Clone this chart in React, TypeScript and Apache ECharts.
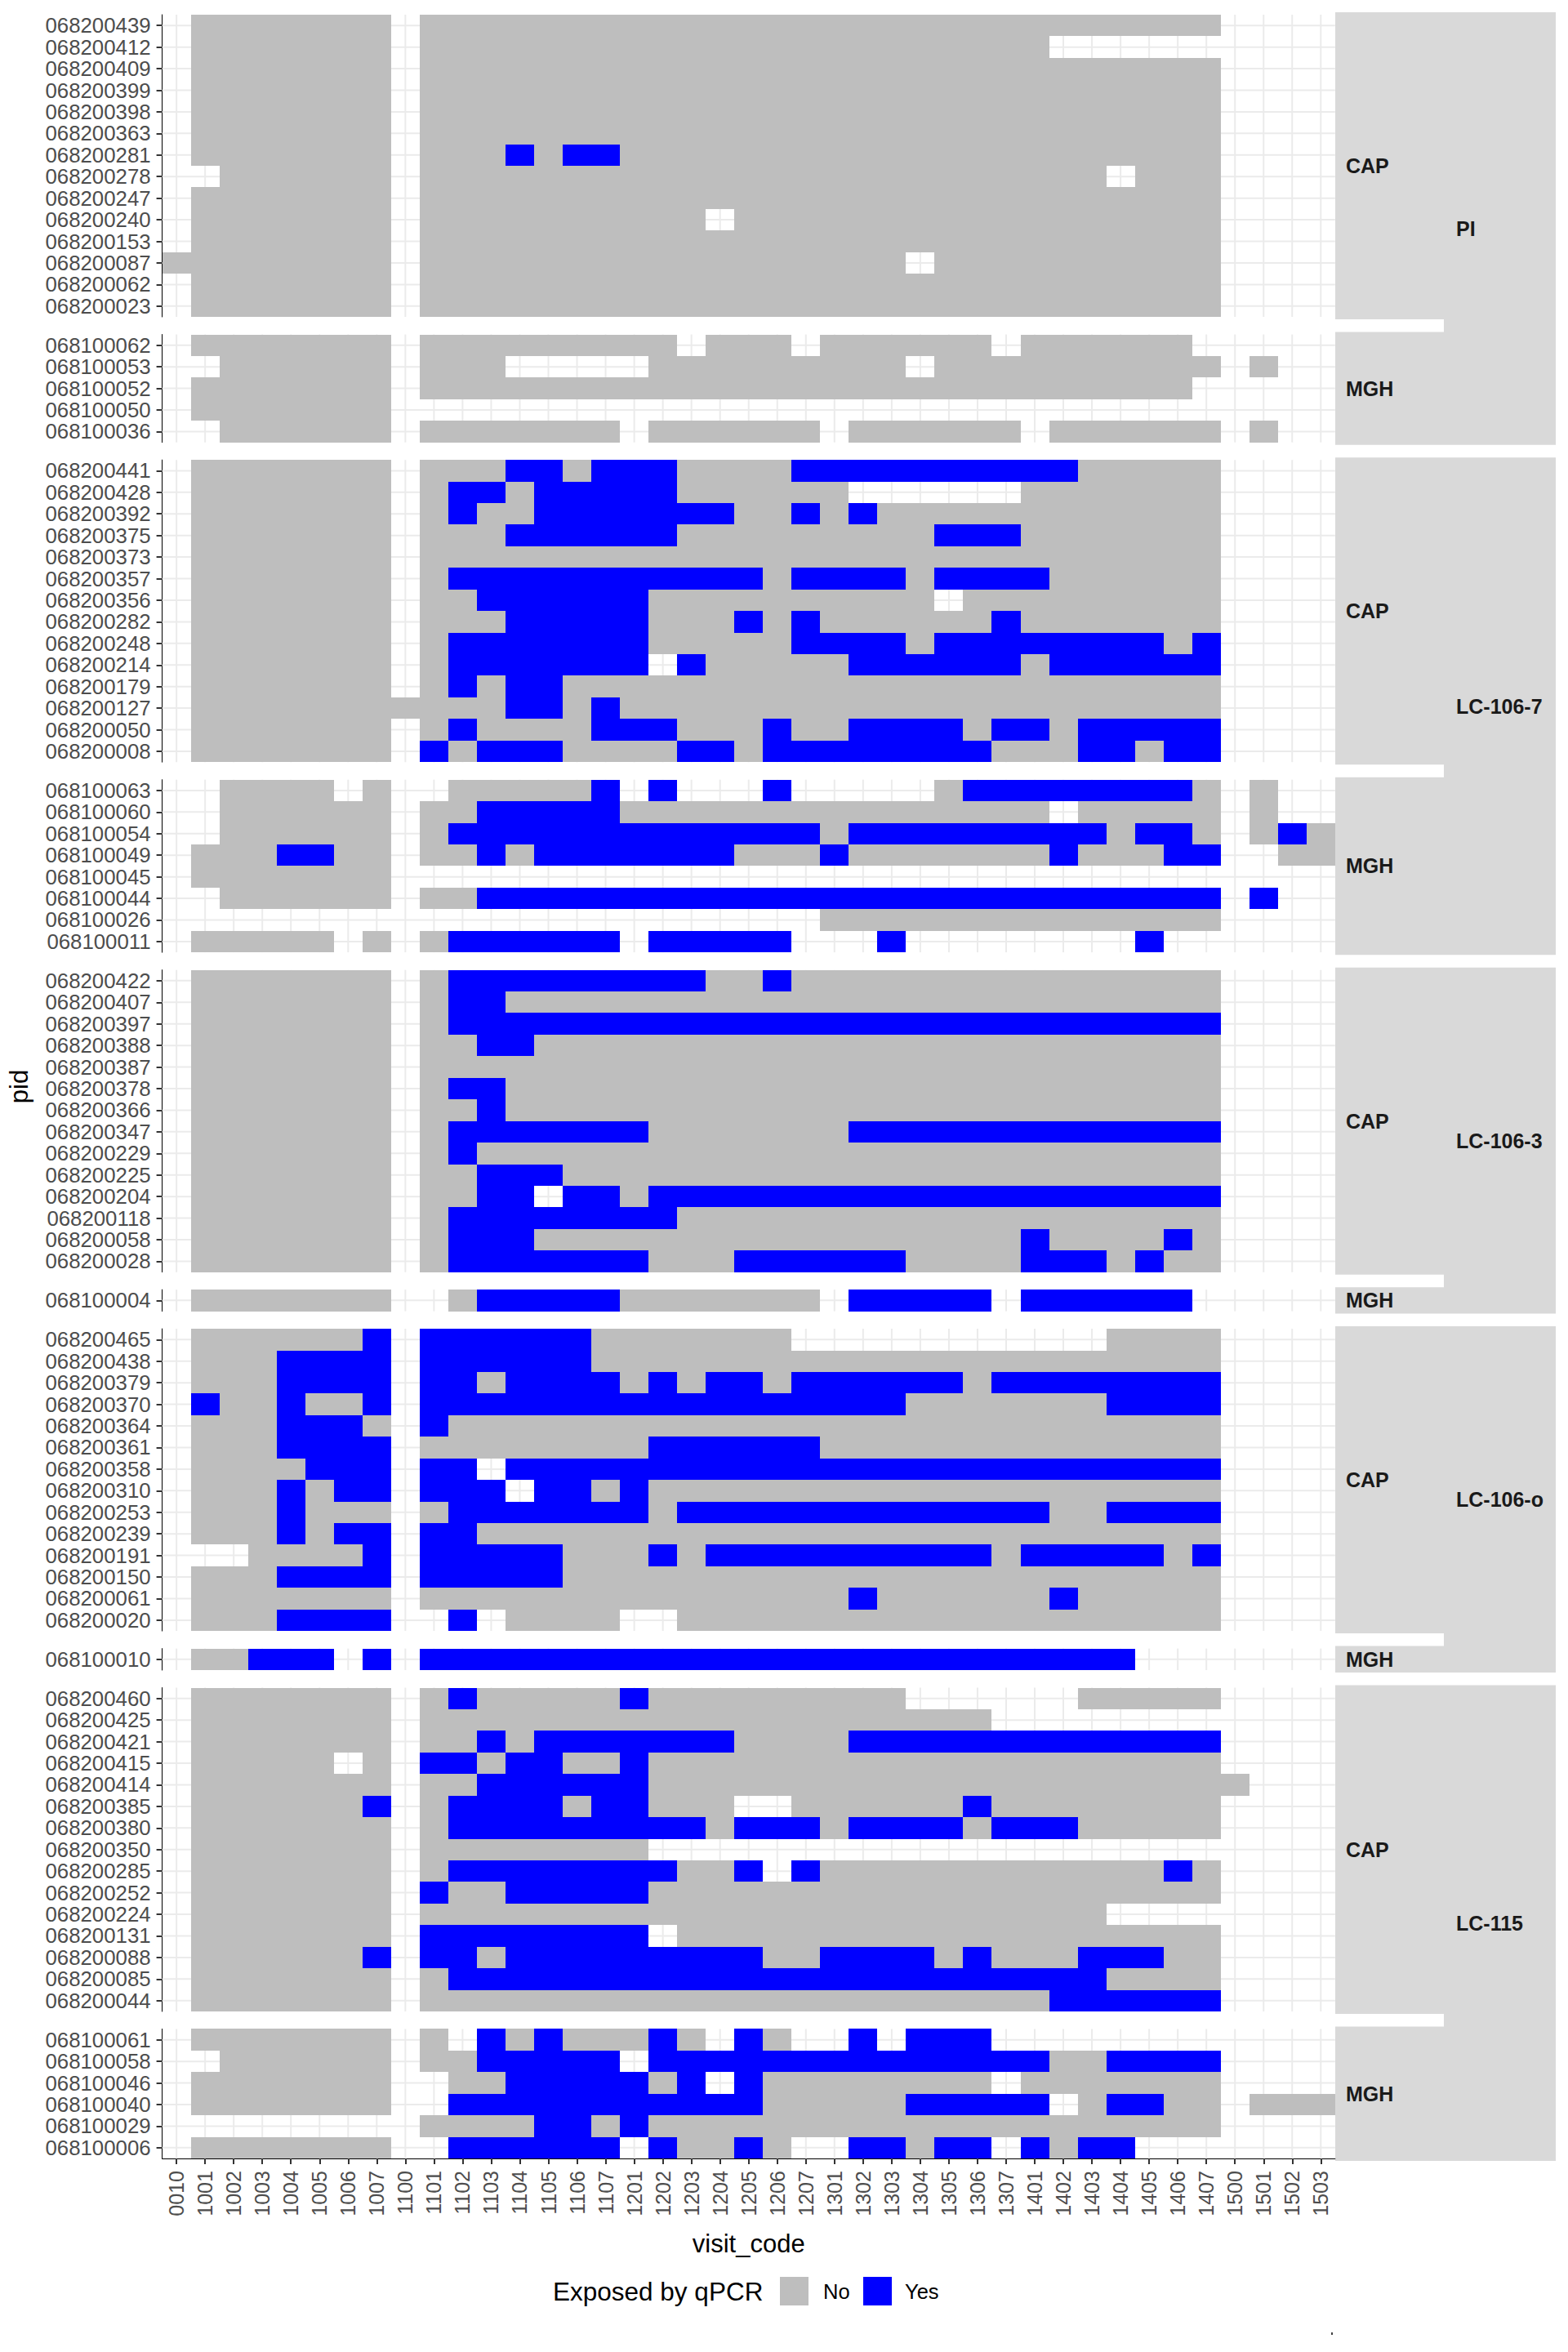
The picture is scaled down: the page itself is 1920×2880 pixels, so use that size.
import React, { useEffect, useRef } from "react";
import * as echarts from "echarts";

// ---------------- DATA ----------------
const visitCodes = [
  "0010", "1001", "1002", "1003", "1004", "1005", "1006", "1007", "1100",
  "1101", "1102", "1103", "1104", "1105", "1106", "1107",
  "1201", "1202", "1203", "1204", "1205", "1206", "1207",
  "1301", "1302", "1303", "1304", "1305", "1306", "1307",
  "1401", "1402", "1403", "1404", "1405", "1406", "1407",
  "1500", "1501", "1502", "1503",
];

// One character per visit code (spaces only separate visit groups):
// n = No, y = Yes, . = no result
const FULL = ". nnnnnnn . nnnnnnn nnnnnnn nnnnnnn nnnnnnn . ...";

const piCapPids = ["068200439", "068200412", "068200409", "068200399", "068200398", "068200363", "068200281", "068200278", "068200247", "068200240", "068200153", "068200087", "068200062", "068200023"];
const piCapRows = [
  ". nnnnnnn . nnnnnnn nnnnnnn nnnnnnn nnnnnnn . ...",
  ". nnnnnnn . nnnnnnn nnnnnnn nnnnnnn n...... . ...",
  FULL, FULL, FULL, FULL,
  ". nnnnnnn . nnnynyy nnnnnnn nnnnnnn nnnnnnn . ...",
  ". .nnnnnn . nnnnnnn nnnnnnn nnnnnnn nnn.nnn . ...",
  FULL,
  ". nnnnnnn . nnnnnnn nnn.nnn nnnnnnn nnnnnnn . ...",
  FULL,
  "n nnnnnnn . nnnnnnn nnnnnnn nnn.nnn nnnnnnn . ...",
  FULL, FULL,
];

const piMghPids = ["068100062", "068100053", "068100052", "068100050", "068100036"];
const piMghRows = [
  ". nnnnnnn . nnnnnnn nn.nnn. nnnnnn. nnnnnn. . ...",
  ". .nnnnnn . nnn.... .nnnnnn nnn.nnn nnnnnnn . n..",
  ". nnnnnnn . nnnnnnn nnnnnnn nnnnnnn nnnnnn. . ...",
  ". nnnnnnn . ....... ....... ....... ....... . ...",
  ". .nnnnnn . nnnnnnn .nnnnnn .nnnnnn .nnnnnn . n..",
];

const lc7CapPids = ["068200441", "068200428", "068200392", "068200375", "068200373", "068200357", "068200356", "068200282", "068200248", "068200214", "068200179", "068200127", "068200050", "068200008"];
const lc7CapRows = [
  ". nnnnnnn . nnnyyny yynnnny yyyyyyy yynnnnn . ...",
  ". nnnnnnn . nyynyyy yynnnnn n...... nnnnnnn . ...",
  ". nnnnnnn . nynnyyy yyyynny nynnnnn nnnnnnn . ...",
  ". nnnnnnn . nnnyyyy yynnnnn nnnnyyy nnnnnnn . ...",
  FULL,
  ". nnnnnnn . nyyyyyy yyyyyny yyynyyy ynnnnnn . ...",
  ". nnnnnnn . nnyyyyy ynnnnnn nnnn.nn nnnnnnn . ...",
  ". nnnnnnn . nnnyyyy ynnnyny nnnnnny nnnnnnn . ...",
  ". nnnnnnn . nyyyyyy ynnnnny yyynyyy yyyyyny . ...",
  ". nnnnnnn . nyyyyyy y.ynnnn nyyyyyy nyyyyyy . ...",
  ". nnnnnnn . nynyynn nnnnnnn nnnnnnn nnnnnnn . ...",
  ". nnnnnnn n nnnyyny nnnnnnn nnnnnnn nnnnnnn . ...",
  ". nnnnnnn . nynnnny yynnnyn nyyyyny ynyyyyy . ...",
  ". nnnnnnn . ynyyynn nnyynyy yyyyyyn nnyynyy . ...",
];

const lc7MghPids = ["068100063", "068100060", "068100054", "068100049", "068100045", "068100044", "068100026", "068100011"];
const lc7MghRows = [
  ". .nnnn.n . .nnnnny .y...y. ....nyy yyyyyyn . n..",
  ". .nnnnnn . nnyyyyy nnnnnnn nnnnnnn n.nnnnn . n..",
  ". .nnnnnn . nyyyyyy yyyyyyy nyyyyyy yyynyyn . nyn",
  ". nnnyynn . nnynyyy yyyynnn ynnnnnn nynnnyy . .nn",
  ". nnnnnnn . ....... ....... ....... ....... . ...",
  ". .nnnnnn . nnyyyyy yyyyyyy yyyyyyy yyyyyyy . y..",
  ". ....... . ....... ....... nnnnnnn nnnnnnn . ...",
  ". nnnnn.n . nyyyyyy .yyyyy. ..y.... ....y.. . ...",
];

const lc3CapPids = ["068200422", "068200407", "068200397", "068200388", "068200387", "068200378", "068200366", "068200347", "068200229", "068200225", "068200204", "068200118", "068200058", "068200028"];
const lc3CapRows = [
  ". nnnnnnn . nyyyyyy yyynnyn nnnnnnn nnnnnnn . ...",
  ". nnnnnnn . nyynnnn nnnnnnn nnnnnnn nnnnnnn . ...",
  ". nnnnnnn . nyyyyyy yyyyyyy yyyyyyy yyyyyyy . ...",
  ". nnnnnnn . nnyynnn nnnnnnn nnnnnnn nnnnnnn . ...",
  FULL,
  ". nnnnnnn . nyynnnn nnnnnnn nnnnnnn nnnnnnn . ...",
  ". nnnnnnn . nnynnnn nnnnnnn nnnnnnn nnnnnnn . ...",
  ". nnnnnnn . nyyyyyy ynnnnnn nyyyyyy yyyyyyy . ...",
  ". nnnnnnn . nynnnnn nnnnnnn nnnnnnn nnnnnnn . ...",
  ". nnnnnnn . nnyyynn nnnnnnn nnnnnnn nnnnnnn . ...",
  ". nnnnnnn . nnyy.yy nyyyyyy yyyyyyy yyyyyyy . ...",
  ". nnnnnnn . nyyyyyy yynnnnn nnnnnnn nnnnnnn . ...",
  ". nnnnnnn . nyyynnn nnnnnnn nnnnnnn ynnnnyn . ...",
  ". nnnnnnn . nyyyyyy ynnnyyy yyynnnn yyynynn . ...",
];

const lc3MghPids = ["068100004"];
const lc3MghRows = [". nnnnnnn . .nyyyyy nnnnnnn .yyyyy. yyyyyy. . ..."];

const lcoCapPids = ["068200465", "068200438", "068200379", "068200370", "068200364", "068200361", "068200358", "068200310", "068200253", "068200239", "068200191", "068200150", "068200061", "068200020"];
const lcoCapRows = [
  ". nnnnnny . yyyyyyn nnnnnn. ....... ...nnnn . ...",
  ". nnnyyyy . yyyyyyn nnnnnnn nnnnnnn nnnnnnn . ...",
  ". nnnyyyy . yynyyyy nynyyny yyyyyny yyyyyyy . ...",
  ". ynnynny . yyyyyyy yyyyyyy yyynnnn nnnyyyy . ...",
  ". nnnyyyn . ynnnnnn nnnnnnn nnnnnnn nnnnnnn . ...",
  ". nnnyyyy . nnnnnnn nyyyyyy nnnnnnn nnnnnnn . ...",
  ". nnnnyyy . yy.yyyy yyyyyyy yyyyyyy yyyyyyy . ...",
  ". nnnynyy . yyy.yyn ynnnnnn nnnnnnn nnnnnnn . ...",
  ". nnnynnn . nyyyyyy ynyyyyy yyyyyyy ynnyyyy . ...",
  ". nnnynyy . yynnnnn nnnnnnn nnnnnnn nnnnnnn . ...",
  ". ..nnnny . yyyyynn nynyyyy yyyyyyn yyyyyny . ...",
  ". nnnyyyy . yyyyynn nnnnnnn nnnnnnn nnnnnnn . ...",
  ". nnnnnnn . nnnnnnn nnnnnnn nynnnnn nynnnnn . ...",
  ". nnnyyyy . .y.nnnn ..nnnnn nnnnnnn nnnnnnn . ...",
];

const lcoMghPids = ["068100010"];
const lcoMghRows = [". nnyyy.y . yyyyyyy yyyyyyy yyyyyyy yyyy... . ..."];

const lc115CapPids = ["068200460", "068200425", "068200421", "068200415", "068200414", "068200385", "068200380", "068200350", "068200285", "068200252", "068200224", "068200131", "068200088", "068200085", "068200044"];
const lc115CapRows = [
  ". nnnnnnn . nynnnnn ynnnnnn nnn.... ..nnnnn . ...",
  ". nnnnnnn . nnnnnnn nnnnnnn nnnnnn. ....... . ...",
  ". nnnnnnn . nnynyyy yyyynnn nyyyyyy yyyyyyy . ...",
  ". nnnnn.n . yynyynn ynnnnnn nnnnnnn nnnnnnn . ...",
  ". nnnnnnn . nnyyyyy ynnnnnn nnnnnnn nnnnnnn n ...",
  ". nnnnnny . nyyyyny ynnn..n nnnnnyn nnnnnnn . ...",
  ". nnnnnnn . nyyyyyy yyynyyy nyyyyny yynnnnn . ...",
  ". nnnnnnn . nnnnnnn n...... ....... ....... . ...",
  ". nnnnnnn . nyyyyyy yynny.y nnnnnnn nnnnnyn . ...",
  ". nnnnnnn . ynnyyyy ynnnnnn nnnnnnn nnnnnnn . ...",
  ". nnnnnnn . nnnnnnn nnnnnnn nnnnnnn nnn.... . ...",
  ". nnnnnnn . yyyyyyy y.nnnnn nnnnnnn nnnnnnn . ...",
  ". nnnnnny . yynyyyy yyyyynn yyyynyn nnyyynn . ...",
  ". nnnnnnn . nyyyyyy yyyyyyy yyyyyyy yyynnnn . ...",
  ". nnnnnnn . nnnnnnn nnnnnnn nnnnnnn nyyyyyy . ...",
];

const lc115MghPids = ["068100061", "068100058", "068100046", "068100040", "068100029", "068100006"];
const lc115MghRows = [
  ". nnnnnnn . n.ynynn nyn.yn. .y.yyy. ....... . ...",
  ". .nnnnnn . nnyyyyy .yyyyyy yyyyyyy ynnyyyy . ...",
  ". nnnnnnn . .nnyyyy yny.ynn nnnnnn. nnnnnnn . ...",
  ". nnnnnnn . .yyyyyy yyyyynn nnnyyyy y.nyynn . nnn",
  ". ....... . nnnnyyn ynnnnnn nnnnnnn nnnnnnn . ...",
  ". nnnnnnn . .yyyyyy .ynnyn. .yynyy. ynyy... . ...",
];

const arms = ["PI", "LC-106-7", "LC-106-3", "LC-106-o", "LC-115"];
const sites = ["CAP", "MGH"];
const legendLabels = ["No", "Yes"];

const panels = [
  { arm: 0, site: 0, pids: piCapPids, rows: piCapRows },
  { arm: 0, site: 1, pids: piMghPids, rows: piMghRows },
  { arm: 1, site: 0, pids: lc7CapPids, rows: lc7CapRows },
  { arm: 1, site: 1, pids: lc7MghPids, rows: lc7MghRows },
  { arm: 2, site: 0, pids: lc3CapPids, rows: lc3CapRows },
  { arm: 2, site: 1, pids: lc3MghPids, rows: lc3MghRows },
  { arm: 3, site: 0, pids: lcoCapPids, rows: lcoCapRows },
  { arm: 3, site: 1, pids: lcoMghPids, rows: lcoMghRows },
  { arm: 4, site: 0, pids: lc115CapPids, rows: lc115CapRows },
  { arm: 4, site: 1, pids: lc115MghPids, rows: lc115MghRows },
];

// ---------------- STYLE ----------------
const FONT = "'Liberation Sans', Arial, Helvetica, sans-serif";
const GRAY = "#BEBEBE";
const BLUE = "#0000FF";
const GRIDLINE = "#EBEBEB";
const STRIP = "#D9D9D9";

const PLOT_LEFT = 198.6;
const COL_W = 35.03;
const PLOT_TOP = 18;
const ROW_H = 26.43;
const PANEL_GAP = 21.5;
const SITE_X = 1635;
const ARM_X = 1768;
const STRIP_END = 1905;

const snap = (v: number) => Math.round(Math.round(v * 1000) / 1000);

function buildOption() {
  const grids: any[] = [];
  const xAxes: any[] = [];
  const yAxes: any[] = [];
  const series: any[] = [];
  const graphics: any[] = [];
  const plotW = COL_W * visitCodes.length;
  const last = panels.length - 1;
  const armSpan: Record<number, [number, number]> = {};

  let cursor = PLOT_TOP;
  panels.forEach((p, i) => {
    const h = p.pids.length * ROW_H;
    grids.push({ left: PLOT_LEFT, top: cursor, width: plotW, height: h, containLabel: false });

    xAxes.push({
      type: "category",
      gridIndex: i,
      data: visitCodes,
      show: i === last,
      position: "bottom",
      axisLine: { show: true, lineStyle: { color: "#000", width: 1 } },
      axisTick: { show: true, alignWithLabel: true, interval: 0, length: 7, lineStyle: { color: "#333", width: 2 } },
      axisLabel: { interval: 0, rotate: 90, fontSize: 25, color: "#4D4D4D", margin: 15, fontFamily: FONT },
      splitLine: { show: false },
    });
    yAxes.push({
      type: "category",
      gridIndex: i,
      data: p.pids,
      inverse: true,
      axisLine: { show: true, lineStyle: { color: "#000", width: 1 } },
      axisTick: { show: true, alignWithLabel: true, interval: 0, length: 7, lineStyle: { color: "#333", width: 2 } },
      axisLabel: { interval: 0, fontSize: 25.8, color: "#4D4D4D", margin: 14, fontFamily: FONT },
      splitLine: { show: false },
    });

    const nRows = p.pids.length;
    series.push({
      type: "custom",
      xAxisIndex: i,
      yAxisIndex: i,
      silent: true,
      z: 1,
      data: [[visitCodes[0], p.pids[0]]],
      encode: { x: 0, y: 1 },
      renderItem: (params: any, api: any) => {
        const cs = params.coordSys;
        const children: any[] = [];
        for (let c = 0; c < visitCodes.length; c++) {
          const x = api.coord([c, 0])[0];
          children.push({ type: "line", shape: { x1: x, y1: cs.y, x2: x, y2: cs.y + cs.height }, style: { stroke: GRIDLINE, lineWidth: 2 } });
        }
        for (let r = 0; r < nRows; r++) {
          const y = api.coord([0, r])[1];
          children.push({ type: "line", shape: { x1: cs.x, y1: y, x2: cs.x + cs.width, y2: y }, style: { stroke: GRIDLINE, lineWidth: 2 } });
        }
        return { type: "group", children };
      },
    });

    const cells: any[] = [];
    p.rows.forEach((row, r) => {
      const codes = row.replace(/ /g, "");
      for (let c = 0; c < visitCodes.length; c++) {
        const ch = codes[c];
        if (ch === "n" || ch === "y") cells.push([visitCodes[c], p.pids[r], ch === "y" ? 1 : 0]);
      }
    });
    series.push({
      type: "custom",
      name: "Exposed by qPCR",
      xAxisIndex: i,
      yAxisIndex: i,
      z: 2,
      dimensions: ["visit_code", "pid", "exposed"],
      encode: { x: 0, y: 1 },
      data: cells,
      renderItem: (params: any, api: any) => {
        const pt = api.coord([api.value(0), api.value(1)]);
        const sz = api.size([1, 1]);
        const x0 = snap(pt[0] - sz[0] / 2);
        const x1 = snap(pt[0] + sz[0] / 2);
        const y0 = snap(pt[1] - sz[1] / 2);
        const y1 = snap(pt[1] + sz[1] / 2);
        return {
          type: "rect",
          shape: { x: x0, y: y0, width: x1 - x0, height: y1 - y0 },
          style: { fill: api.value(2) === 1 ? BLUE : GRAY },
        };
      },
    });

    // site strip
    const sTop = cursor - 3;
    const sBot = cursor + h + 3;
    graphics.push({ type: "rect", shape: { x: SITE_X, y: sTop, width: ARM_X - SITE_X, height: sBot - sTop }, style: { fill: STRIP }, silent: true });
    graphics.push({
      type: "text", x: 1648, y: (sTop + sBot) / 2,
      style: { text: sites[p.site], fontSize: 25, fontWeight: "bold", fill: "#1A1A1A", fontFamily: FONT, align: "left", verticalAlign: "middle" },
    });
    if (!armSpan[p.arm]) armSpan[p.arm] = [sTop, sBot];
    else armSpan[p.arm][1] = sBot;

    cursor += h + PANEL_GAP;
  });

  Object.keys(armSpan).forEach((k) => {
    const a = Number(k);
    const [t, b] = armSpan[a];
    graphics.push({ type: "rect", shape: { x: ARM_X, y: t, width: STRIP_END - ARM_X, height: b - t }, style: { fill: STRIP }, silent: true });
    graphics.push({
      type: "text", x: 1783, y: (t + b) / 2,
      style: { text: arms[a], fontSize: 25, fontWeight: "bold", fill: "#1A1A1A", fontFamily: FONT, align: "left", verticalAlign: "middle" },
    });
  });

  const plotBottom = cursor - PANEL_GAP;
  // axis titles
  graphics.push({
    type: "text", x: 23, y: (PLOT_TOP + plotBottom) / 2, rotation: Math.PI / 2,
    style: { text: "pid", fontSize: 31, fill: "#000", fontFamily: FONT, align: "center", verticalAlign: "middle" },
  });
  graphics.push({
    type: "text", x: PLOT_LEFT + plotW / 2, y: 2747,
    style: { text: "visit_code", fontSize: 31, fill: "#000", fontFamily: FONT, align: "center", verticalAlign: "middle" },
  });
  // legend
  graphics.push({
    type: "text", x: 677, y: 2806,
    style: { text: "Exposed by qPCR", fontSize: 31.5, fill: "#000", fontFamily: FONT, align: "left", verticalAlign: "middle" },
  });
  graphics.push({ type: "rect", shape: { x: 955, y: 2788, width: 35, height: 35 }, style: { fill: GRAY } });
  graphics.push({
    type: "text", x: 1008, y: 2806,
    style: { text: legendLabels[0], fontSize: 25.5, fill: "#000", fontFamily: FONT, align: "left", verticalAlign: "middle" },
  });
  graphics.push({ type: "rect", shape: { x: 1057, y: 2788, width: 35, height: 35 }, style: { fill: BLUE } });
  graphics.push({
    type: "text", x: 1108, y: 2806,
    style: { text: legendLabels[1], fontSize: 25.5, fill: "#000", fontFamily: FONT, align: "left", verticalAlign: "middle" },
  });
  graphics.push({ type: "rect", shape: { x: 1630, y: 2856, width: 2, height: 3 }, style: { fill: "#444" } });

  return {
    animation: false,
    backgroundColor: "#FFFFFF",
    textStyle: { fontFamily: FONT },
    grid: grids,
    xAxis: xAxes,
    yAxis: yAxes,
    series,
    graphic: { elements: graphics },
  };
}

export default function App() {
  const ref = useRef<HTMLDivElement>(null);
  useEffect(() => {
    if (!ref.current) return;
    const chart = echarts.init(ref.current, null, { renderer: "svg" });
    chart.setOption(buildOption() as any);
    return () => chart.dispose();
  }, []);
  return (
    <div
      ref={ref}
      style={{ position: "absolute", left: 0, top: 0, width: 1920, height: 2880, background: "#fff" }}
    />
  );
}
